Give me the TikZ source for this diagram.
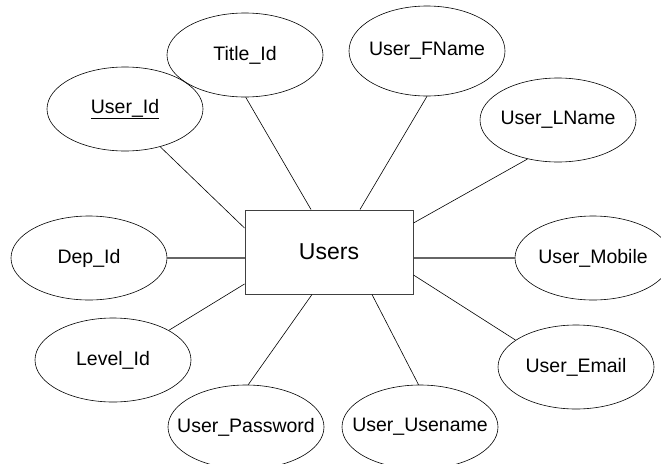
\documentclass[tikz,border=0pt]{standalone}
\usepackage{fontspec}
\setmainfont{Liberation Sans}
\usetikzlibrary{shapes.geometric}
\newcommand{\attrtext}[1]{\makebox[0pt]{#1}}
\begin{document}
\begin{tikzpicture}[x=1pt,y=-1pt,
    attr/.style={ellipse,draw,line width=0.6pt,minimum width=156pt,minimum height=84pt,inner sep=0pt,font=\fontsize{19.5}{23}\selectfont},
    ent/.style={rectangle,draw=black!75,line width=1pt,minimum width=168pt,minimum height=84pt,font=\fontsize{23}{27}\selectfont},
    link/.style={line width=0.6pt},
    hlink/.style={line width=1.2pt,black!60}]
          \useasboundingbox (0,0) rectangle (661,463);
          \clip (0,0) rectangle (661,463);
          \node[ent] (users) at (329,252) {Users};
          \node[attr] (uid) at (125,109) {\attrtext{\underline{User\_Id}}};
          \node[attr] (title) at (245,55) {\attrtext{Title\_Id}};
          \node[attr,minimum height=90pt] (fname) at (427,51) {\attrtext{User\_FName}};
          \node[attr] (lname) at (558,120) {\attrtext{User\_LName}};
          \node[attr] (dep) at (89,258) {\attrtext{Dep\_Id}};
          \node[attr] (mobile) at (593,258) {\attrtext{User\_Mobile}};
          \node[attr] (level) at (113,360) {\attrtext{Level\_Id}};
          \node[attr] (email) at (576,367) {\attrtext{User\_Email}};
          \node[attr] (pass) at (246,427) {\attrtext{User\_Password}};
          \node[attr] (uname) at (420,427) {\attrtext{User\_Usename}};
          \draw[link] (uid.-47) -- ([yshift=24pt]users.west);
          \draw[link] (title.-89) -- ([xshift=-18pt]users.north);
          \draw[link] (fname.-90) -- ([xshift=31pt]users.north);
          \draw[link] (lname.-128) -- ([yshift=29pt]users.east);
          \draw[hlink] (dep.east) -- ([yshift=-6pt]users.west);
          \draw[hlink] ([yshift=-6pt]users.east) -- (mobile.west);
          \draw[link] (level.28) -- ([yshift=-32pt]users.west);
          \draw[link] (pass.87) -- ([xshift=-17pt]users.south);
          \draw[link] (uname.92) -- ([xshift=43pt]users.south);
          \draw[link] (email.156) -- ([yshift=-23pt]users.east);
\end{tikzpicture}
\end{document}
